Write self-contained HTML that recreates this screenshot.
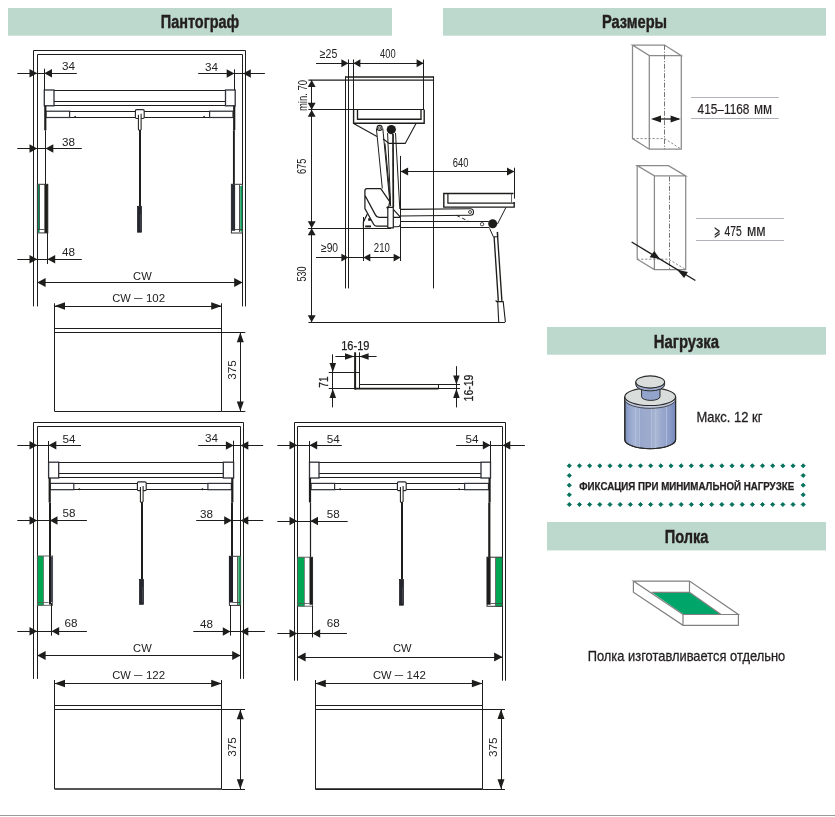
<!DOCTYPE html>
<html lang="ru"><head><meta charset="utf-8"><title>Пантограф</title>
<style>
html,body{margin:0;padding:0;background:#fff}
body{width:835px;height:817px;overflow:hidden}
svg{display:block;will-change:transform;font-family:"Liberation Sans",Arial,Helvetica,sans-serif}
</style></head><body>
<svg width="835" height="817" viewBox="0 0 835 817">
<rect width="835" height="817" fill="#fff"/>
<rect x="8" y="8" width="384" height="27.7" fill="#bdd9ce"/>
<rect x="443" y="8" width="383" height="27.7" fill="#bdd9ce"/>
<rect x="547" y="327" width="279" height="27.7" fill="#bdd9ce"/>
<rect x="547" y="522" width="279" height="28.4" fill="#bdd9ce"/>
<text x="160.8" y="27.8" font-size="18.7" fill="#231f20" font-weight="bold" textLength="78.4" lengthAdjust="spacingAndGlyphs" stroke="#231f20" stroke-width="0.45">Пантограф</text>
<text x="602" y="27.5" font-size="18.7" fill="#231f20" font-weight="bold" textLength="65.1" lengthAdjust="spacingAndGlyphs" stroke="#231f20" stroke-width="0.45">Размеры</text>
<text x="653.8" y="347.7" font-size="18.7" fill="#231f20" font-weight="bold" textLength="65.2" lengthAdjust="spacingAndGlyphs" stroke="#231f20" stroke-width="0.45">Нагрузка</text>
<text x="664.7" y="542.8" font-size="18.7" fill="#231f20" font-weight="bold" textLength="43.7" lengthAdjust="spacingAndGlyphs" stroke="#231f20" stroke-width="0.45">Полка</text>
<line x1="0" y1="815.5" x2="835" y2="815.5" stroke="#9a9a9a" stroke-width="1" />
<path d="M33.5,306.4 V50.5 H245.5 V306.4" stroke="#1d1d1b" stroke-width="1" fill="none" />
<path d="M37.5,306.4 V54.5 H242.5 V306.4" stroke="#1d1d1b" stroke-width="1" fill="none" />
<line x1="54" y1="90.5" x2="225.5" y2="90.5" stroke="#1d1d1b" stroke-width="1" />
<line x1="54" y1="101.5" x2="225.5" y2="101.5" stroke="#1d1d1b" stroke-width="1" />
<line x1="44.3" y1="105.5" x2="235.2" y2="105.5" stroke="#1d1d1b" stroke-width="1" />
<rect x="44.3" y="90.0" width="9.7" height="15.8" stroke="#2e303a" stroke-width="1.3" fill="#fff"/>
<rect x="225.5" y="90.0" width="9.7" height="15.8" stroke="#2e303a" stroke-width="1.3" fill="#fff"/>
<line x1="46" y1="111.5" x2="233" y2="111.5" stroke="#1d1d1b" stroke-width="1" />
<line x1="46" y1="117.5" x2="233" y2="117.5" stroke="#1d1d1b" stroke-width="1" />
<rect x="46" y="111.19999999999999" width="23.6" height="6.3" stroke="#2e303a" stroke-width="1.2" fill="#fff"/>
<rect x="209.6" y="111.19999999999999" width="23.4" height="6.3" stroke="#2e303a" stroke-width="1.2" fill="#fff"/>
<circle cx="75.1" cy="117.1" r="1" fill="#1d1d1b"/>
<circle cx="204.1" cy="117.1" r="1" fill="#1d1d1b"/>
<line x1="45.300000000000004" y1="105.8" x2="45.300000000000004" y2="130.3" stroke="#1d1d1b" stroke-width="2.2" />
<line x1="45.5" y1="130.3" x2="45.5" y2="184.3" stroke="#1d1d1b" stroke-width="1" />
<line x1="234.20000000000002" y1="105.8" x2="234.20000000000002" y2="130.3" stroke="#1d1d1b" stroke-width="2.2" />
<line x1="233.9" y1="130.3" x2="233.9" y2="184.3" stroke="#1d1d1b" stroke-width="1.9" />
<rect x="135.4" y="109.6" width="8.8" height="8.9" rx="1.2" fill="#fff" stroke="#26272d" stroke-width="1.15"/>
<path d="M138.4,114.8 V129.4 Q139.9,131.4 141.1,129.4 V113.8" stroke="#1d1d1b" stroke-width="1.05" fill="#fff" />
<line x1="140.0" y1="130.0" x2="140.0" y2="206" stroke="#1d1d1b" stroke-width="2" />
<rect x="137.5" y="206.3" width="4.0" height="25.9" stroke="#15161c" stroke-width="0.7" fill="#24252d"/>
<line x1="140.5" y1="214" x2="140.5" y2="230.5" stroke="#4a4c58" stroke-width="0.7" />
<rect x="37.4" y="184.3" width="10.4" height="48.6" stroke="#333" stroke-width="1" fill="#fff"/>
<rect x="44.4" y="184.3" width="3.4" height="48.6" fill="#1d1d1b"/>
<line x1="38.8" y1="184.8" x2="38.8" y2="232.4" stroke="#0c8c54" stroke-width="1.6" />
<line x1="39.5" y1="185" x2="39.5" y2="229.5" stroke="#333" stroke-width="0.7" />
<line x1="37.4" y1="229.5" x2="44.4" y2="229.5" stroke="#333" stroke-width="0.8" />
<rect x="231.4" y="184.3" width="10.9" height="48.7" stroke="#333" stroke-width="1" fill="#fff"/>
<rect x="231.3" y="184.3" width="3.8" height="46.5" fill="#2b2d36"/>
<line x1="241.2" y1="186" x2="241.2" y2="231.5" stroke="#0c9a56" stroke-width="1.9" />
<line x1="239.5" y1="185" x2="239.5" y2="232" stroke="#222" stroke-width="0.8" />
<line x1="234.6" y1="229.5" x2="242.3" y2="229.5" stroke="#333" stroke-width="0.8" />
<line x1="17.3" y1="73.5" x2="76.8" y2="73.5" stroke="#1d1d1b" stroke-width="1" />
<polygon points="37.2,73.3 29.5,69.05 29.5,77.55" fill="#1d1d1b"/>
<polygon points="44.3,73.3 52.0,69.05 52.0,77.55" fill="#1d1d1b"/>
<line x1="44.5" y1="68.7" x2="44.5" y2="90" stroke="#1d1d1b" stroke-width="1" />
<line x1="198.2" y1="73.5" x2="264.9" y2="73.5" stroke="#1d1d1b" stroke-width="1" />
<polygon points="234.4,73.4 226.7,69.15 226.7,77.65" fill="#1d1d1b"/>
<polygon points="243.1,73.4 250.8,69.15 250.8,77.65" fill="#1d1d1b"/>
<line x1="234.5" y1="69.3" x2="234.5" y2="90" stroke="#1d1d1b" stroke-width="1" />
<line x1="17.3" y1="148.5" x2="81.8" y2="148.5" stroke="#1d1d1b" stroke-width="1" />
<polygon points="37.2,148.5 29.5,144.25 29.5,152.75" fill="#1d1d1b"/>
<polygon points="45.6,148.5 53.3,144.25 53.3,152.75" fill="#1d1d1b"/>
<line x1="17.3" y1="259.5" x2="81.8" y2="259.5" stroke="#1d1d1b" stroke-width="1" />
<polygon points="37.2,259.3 29.5,255.05 29.5,263.55" fill="#1d1d1b"/>
<polygon points="47.5,259.3 55.2,255.05 55.2,263.55" fill="#1d1d1b"/>
<line x1="47.5" y1="233" x2="47.5" y2="264" stroke="#1d1d1b" stroke-width="1" />
<line x1="37.2" y1="282.5" x2="242.6" y2="282.5" stroke="#1d1d1b" stroke-width="1" />
<polygon points="37.2,282.4 45.6,277.9 45.6,286.9" fill="#1d1d1b"/>
<polygon points="242.6,282.4 234.2,277.9 234.2,286.9" fill="#1d1d1b"/>
<line x1="54.5" y1="306.5" x2="221.7" y2="306.5" stroke="#1d1d1b" stroke-width="1" />
<polygon points="54.5,306.1 65.0,302.35 65.0,309.85" fill="#1d1d1b"/>
<polygon points="221.7,306.1 211.2,302.35 211.2,309.85" fill="#1d1d1b"/>
<line x1="54.5" y1="303.3" x2="54.5" y2="411.3" stroke="#1d1d1b" stroke-width="1" />
<line x1="221.5" y1="303.3" x2="221.5" y2="411.3" stroke="#1d1d1b" stroke-width="1" />
<line x1="54.5" y1="328.5" x2="221.7" y2="328.5" stroke="#1d1d1b" stroke-width="1" />
<line x1="54.5" y1="332.5" x2="245.3" y2="332.5" stroke="#1d1d1b" stroke-width="1" />
<line x1="54.5" y1="411.5" x2="221.7" y2="411.5" stroke="#1d1d1b" stroke-width="1" />
<line x1="221.7" y1="411.5" x2="245.3" y2="411.5" stroke="#1d1d1b" stroke-width="1" />
<line x1="240.5" y1="332.4" x2="240.5" y2="411.3" stroke="#1d1d1b" stroke-width="1" />
<polygon points="240.3,332.4 236.8,342.2 243.8,342.2" fill="#1d1d1b"/>
<polygon points="240.3,411.3 236.8,401.5 243.8,401.5" fill="#1d1d1b"/>
<text x="62" y="70.4" font-size="11.6" fill="#222" textLength="13.0" lengthAdjust="spacingAndGlyphs">34</text>
<text x="205" y="70.7" font-size="11.6" fill="#222" textLength="13.0" lengthAdjust="spacingAndGlyphs">34</text>
<text x="62" y="145.6" font-size="11.6" fill="#222" textLength="13.0" lengthAdjust="spacingAndGlyphs">38</text>
<text x="62" y="255.6" font-size="11.6" fill="#222" textLength="13.0" lengthAdjust="spacingAndGlyphs">48</text>
<text x="142.4" y="279.5" font-size="11.6" fill="#222" text-anchor="middle" textLength="18.6" lengthAdjust="spacingAndGlyphs">CW</text>
<text x="112.3" y="302" font-size="11.6" fill="#222" textLength="18.6" lengthAdjust="spacingAndGlyphs">CW</text>
<text x="134.1" y="300.8" font-size="11.6" fill="#222" textLength="8.4" lengthAdjust="spacingAndGlyphs">–</text>
<text x="145.9" y="302" font-size="11.6" fill="#222" textLength="19.2" lengthAdjust="spacingAndGlyphs">102</text>
<text x="236" y="370" font-size="11.6" fill="#222" text-anchor="middle" textLength="19.5" lengthAdjust="spacingAndGlyphs" transform="rotate(-90 236 370)">375</text>
<path d="M33.5,678.9 V422.5 H243.5 V678.9" stroke="#1d1d1b" stroke-width="1" fill="none" />
<path d="M37.5,678.9 V426.5 H240.5 V678.9" stroke="#1d1d1b" stroke-width="1" fill="none" />
<line x1="58.7" y1="462.5" x2="223.3" y2="462.5" stroke="#1d1d1b" stroke-width="1" />
<line x1="58.7" y1="473.5" x2="223.3" y2="473.5" stroke="#1d1d1b" stroke-width="1" />
<line x1="48.6" y1="477.5" x2="233.6" y2="477.5" stroke="#1d1d1b" stroke-width="1" />
<rect x="48.6" y="462.2" width="10.1" height="15.8" stroke="#2e303a" stroke-width="1.3" fill="#fff"/>
<rect x="223.3" y="462.2" width="10.3" height="15.8" stroke="#2e303a" stroke-width="1.3" fill="#fff"/>
<line x1="50.3" y1="483.5" x2="231.4" y2="483.5" stroke="#1d1d1b" stroke-width="1" />
<line x1="50.3" y1="489.5" x2="231.4" y2="489.5" stroke="#1d1d1b" stroke-width="1" />
<rect x="50.3" y="483.4" width="23.5" height="6.3" stroke="#2e303a" stroke-width="1.2" fill="#fff"/>
<rect x="207.9" y="483.4" width="23.5" height="6.3" stroke="#2e303a" stroke-width="1.2" fill="#fff"/>
<circle cx="79.3" cy="489.29999999999995" r="1" fill="#1d1d1b"/>
<circle cx="202.4" cy="489.29999999999995" r="1" fill="#1d1d1b"/>
<line x1="49.7" y1="478.0" x2="49.7" y2="502.5" stroke="#1d1d1b" stroke-width="2.2" />
<line x1="50" y1="502.5" x2="50" y2="556" stroke="#1d1d1b" stroke-width="2" />
<line x1="232.3" y1="478.0" x2="232.3" y2="502.5" stroke="#1d1d1b" stroke-width="2.2" />
<line x1="232" y1="502.5" x2="232" y2="556" stroke="#1d1d1b" stroke-width="2" />
<rect x="137.4" y="481.8" width="8.8" height="8.9" rx="1.2" fill="#fff" stroke="#26272d" stroke-width="1.15"/>
<path d="M140.4,487.0 V501.6 Q141.9,503.6 143.1,501.6 V486.0" stroke="#1d1d1b" stroke-width="1.05" fill="#fff" />
<line x1="142.0" y1="502.2" x2="142.0" y2="579" stroke="#1d1d1b" stroke-width="2" />
<rect x="139.5" y="579.3" width="4.0" height="25.0" stroke="#15161c" stroke-width="0.7" fill="#24252d"/>
<line x1="142.5" y1="587" x2="142.5" y2="602.6" stroke="#4a4c58" stroke-width="0.7" />
<rect x="37.2" y="556" width="6.7" height="49.5" fill="#00a651"/>
<rect x="37.4" y="556" width="15.2" height="49.3" stroke="#555" stroke-width="0.9" fill="none"/>
<line x1="43.5" y1="556" x2="43.5" y2="605.3" stroke="#777" stroke-width="0.8" />
<rect x="50.5" y="556.5" width="2.3" height="45.8" fill="#454853"/>
<line x1="50" y1="556" x2="50" y2="604.5" stroke="#1d1d1b" stroke-width="2" />
<line x1="37.4" y1="602.5" x2="48.6" y2="602.5" stroke="#555" stroke-width="0.8" />
<rect x="229.4" y="556.3" width="11.2" height="49.1" stroke="#333" stroke-width="1" fill="#fff"/>
<rect x="229.1" y="556.3" width="3.9" height="46.2" fill="#1e1f26"/>
<line x1="239.4" y1="556.5" x2="239.4" y2="605" stroke="#1b9a5b" stroke-width="2.2" />
<line x1="237.5" y1="557" x2="237.5" y2="605" stroke="#333" stroke-width="0.8" />
<line x1="232.7" y1="602.5" x2="240.6" y2="602.5" stroke="#333" stroke-width="0.8" />
<line x1="17.3" y1="445.5" x2="81" y2="445.5" stroke="#1d1d1b" stroke-width="1" />
<polygon points="37.2,445.3 29.5,441.05 29.5,449.55" fill="#1d1d1b"/>
<polygon points="48.6,445.3 56.3,441.05 56.3,449.55" fill="#1d1d1b"/>
<line x1="48.5" y1="441" x2="48.5" y2="462.5" stroke="#1d1d1b" stroke-width="1" />
<line x1="198.2" y1="445.5" x2="263.2" y2="445.5" stroke="#1d1d1b" stroke-width="1" />
<polygon points="233.6,445.4 225.9,441.15 225.9,449.65" fill="#1d1d1b"/>
<polygon points="240.6,445.4 248.3,441.15 248.3,449.65" fill="#1d1d1b"/>
<line x1="233.5" y1="440.7" x2="233.5" y2="462.5" stroke="#1d1d1b" stroke-width="1" />
<line x1="17.3" y1="520.5" x2="86.9" y2="520.5" stroke="#1d1d1b" stroke-width="1" />
<polygon points="37.2,520.4 29.5,516.15 29.5,524.65" fill="#1d1d1b"/>
<polygon points="49.8,520.4 57.5,516.15 57.5,524.65" fill="#1d1d1b"/>
<line x1="196.2" y1="520.5" x2="263.2" y2="520.5" stroke="#1d1d1b" stroke-width="1" />
<polygon points="231.9,520.5 224.2,516.25 224.2,524.75" fill="#1d1d1b"/>
<polygon points="240.6,520.5 248.3,516.25 248.3,524.75" fill="#1d1d1b"/>
<line x1="17.3" y1="631.5" x2="86.9" y2="631.5" stroke="#1d1d1b" stroke-width="1" />
<polygon points="37.2,631.2 29.5,626.95 29.5,635.45" fill="#1d1d1b"/>
<polygon points="51.5,631.2 59.2,626.95 59.2,635.45" fill="#1d1d1b"/>
<line x1="51.5" y1="603" x2="51.5" y2="635.7" stroke="#1d1d1b" stroke-width="1" />
<line x1="193.3" y1="631.5" x2="264.9" y2="631.5" stroke="#1d1d1b" stroke-width="1" />
<polygon points="230.5,631.4 222.8,627.15 222.8,635.65" fill="#1d1d1b"/>
<polygon points="240.6,631.4 248.3,627.15 248.3,635.65" fill="#1d1d1b"/>
<line x1="230.5" y1="605" x2="230.5" y2="635.6" stroke="#1d1d1b" stroke-width="1" />
<line x1="37.2" y1="655.5" x2="240.6" y2="655.5" stroke="#1d1d1b" stroke-width="1" />
<polygon points="37.2,655.4 45.6,650.9 45.6,659.9" fill="#1d1d1b"/>
<polygon points="240.6,655.4 232.2,650.9 232.2,659.9" fill="#1d1d1b"/>
<line x1="54.5" y1="683.5" x2="221.7" y2="683.5" stroke="#1d1d1b" stroke-width="1" />
<polygon points="54.5,683.6 65.0,679.85 65.0,687.35" fill="#1d1d1b"/>
<polygon points="221.7,683.6 211.2,679.85 211.2,687.35" fill="#1d1d1b"/>
<line x1="54.5" y1="680" x2="54.5" y2="789" stroke="#1d1d1b" stroke-width="1" />
<line x1="221.5" y1="680" x2="221.5" y2="789" stroke="#1d1d1b" stroke-width="1" />
<line x1="54.5" y1="705.5" x2="221.7" y2="705.5" stroke="#1d1d1b" stroke-width="1" />
<line x1="54.5" y1="709.5" x2="245" y2="709.5" stroke="#1d1d1b" stroke-width="1" />
<line x1="54.5" y1="789" x2="221.7" y2="789" stroke="#1d1d1b" stroke-width="1.6" />
<line x1="221.7" y1="789.5" x2="245" y2="789.5" stroke="#1d1d1b" stroke-width="1" />
<line x1="240.5" y1="709.4" x2="240.5" y2="789" stroke="#1d1d1b" stroke-width="1" />
<polygon points="240.3,709.4 236.8,719.2 243.8,719.2" fill="#1d1d1b"/>
<polygon points="240.3,789 236.8,779.2 243.8,779.2" fill="#1d1d1b"/>
<text x="62.4" y="442.8" font-size="11.6" fill="#222" textLength="13.0" lengthAdjust="spacingAndGlyphs">54</text>
<text x="205" y="442.3" font-size="11.6" fill="#222" textLength="13.0" lengthAdjust="spacingAndGlyphs">34</text>
<text x="62.4" y="517.4" font-size="11.6" fill="#222" textLength="13.0" lengthAdjust="spacingAndGlyphs">58</text>
<text x="200" y="517.5" font-size="11.6" fill="#222" textLength="13.0" lengthAdjust="spacingAndGlyphs">38</text>
<text x="64.5" y="627.3" font-size="11.6" fill="#222" textLength="13.0" lengthAdjust="spacingAndGlyphs">68</text>
<text x="200" y="627.5" font-size="11.6" fill="#222" textLength="13.0" lengthAdjust="spacingAndGlyphs">48</text>
<text x="142.4" y="651.9" font-size="11.6" fill="#222" text-anchor="middle" textLength="18.6" lengthAdjust="spacingAndGlyphs">CW</text>
<text x="112.3" y="679" font-size="11.6" fill="#222" textLength="18.6" lengthAdjust="spacingAndGlyphs">CW</text>
<text x="134.1" y="677.8" font-size="11.6" fill="#222" textLength="8.4" lengthAdjust="spacingAndGlyphs">–</text>
<text x="145.9" y="679" font-size="11.6" fill="#222" textLength="19.2" lengthAdjust="spacingAndGlyphs">122</text>
<text x="236" y="747" font-size="11.6" fill="#222" text-anchor="middle" textLength="19.5" lengthAdjust="spacingAndGlyphs" transform="rotate(-90 236 747)">375</text>
<path d="M294.5,680.7 V422.5 H505.5 V680.7" stroke="#1d1d1b" stroke-width="1" fill="none" />
<path d="M297.5,680.7 V426.5 H502.5 V680.7" stroke="#1d1d1b" stroke-width="1" fill="none" />
<line x1="319" y1="462.5" x2="481" y2="462.5" stroke="#1d1d1b" stroke-width="1" />
<line x1="319" y1="473.5" x2="481" y2="473.5" stroke="#1d1d1b" stroke-width="1" />
<line x1="309.5" y1="477.5" x2="490.5" y2="477.5" stroke="#1d1d1b" stroke-width="1" />
<rect x="309.5" y="462.2" width="9.5" height="15.8" stroke="#2e303a" stroke-width="1.3" fill="#fff"/>
<rect x="481" y="462.2" width="9.5" height="15.8" stroke="#2e303a" stroke-width="1.3" fill="#fff"/>
<line x1="311.1" y1="483.5" x2="488.5" y2="483.5" stroke="#1d1d1b" stroke-width="1" />
<line x1="311.1" y1="489.5" x2="488.5" y2="489.5" stroke="#1d1d1b" stroke-width="1" />
<rect x="311.1" y="483.4" width="23.5" height="6.3" stroke="#2e303a" stroke-width="1.2" fill="#fff"/>
<rect x="464.6" y="483.4" width="23.9" height="6.3" stroke="#2e303a" stroke-width="1.2" fill="#fff"/>
<circle cx="340.1" cy="489.29999999999995" r="1" fill="#1d1d1b"/>
<circle cx="459.1" cy="489.29999999999995" r="1" fill="#1d1d1b"/>
<line x1="310.0" y1="478.0" x2="310.0" y2="502.5" stroke="#1d1d1b" stroke-width="2.2" />
<line x1="310.5" y1="502.5" x2="310.5" y2="557.2" stroke="#1d1d1b" stroke-width="1.2" />
<line x1="489.6" y1="478.0" x2="489.6" y2="502.5" stroke="#1d1d1b" stroke-width="2.2" />
<line x1="489.3" y1="502.5" x2="489.3" y2="557.2" stroke="#1d1d1b" stroke-width="2.2" />
<rect x="397.4" y="481.8" width="8.8" height="8.9" rx="1.2" fill="#fff" stroke="#26272d" stroke-width="1.15"/>
<path d="M400.4,487.0 V501.6 Q401.9,503.6 403.1,501.6 V486.0" stroke="#1d1d1b" stroke-width="1.05" fill="#fff" />
<line x1="402.0" y1="502.2" x2="402.0" y2="579.3" stroke="#1d1d1b" stroke-width="2" />
<rect x="399.5" y="579.5999999999999" width="4.0" height="25.6" stroke="#15161c" stroke-width="0.7" fill="#24252d"/>
<line x1="402.5" y1="587.3" x2="402.5" y2="603.5" stroke="#4a4c58" stroke-width="0.7" />
<rect x="297.4" y="557.2" width="7" height="49.2" fill="#00a651"/>
<rect x="297.6" y="557.2" width="15.0" height="49.0" stroke="#555" stroke-width="0.9" fill="none"/>
<line x1="304.5" y1="557.2" x2="304.5" y2="606.2" stroke="#777" stroke-width="0.8" />
<rect x="309.5" y="557.2" width="3.3" height="47.5" fill="#1d1d1b"/>
<line x1="297.6" y1="603.5" x2="309.5" y2="603.5" stroke="#555" stroke-width="0.8" />
<rect x="495.6" y="557.2" width="7" height="49.3" fill="#00a651"/>
<rect x="487" y="557.2" width="15.4" height="49.1" stroke="#333" stroke-width="1" fill="none"/>
<rect x="486.9" y="557.2" width="3.7" height="47.5" fill="#1d1d1b"/>
<line x1="495.5" y1="557.2" x2="495.5" y2="606.3" stroke="#555" stroke-width="0.8" />
<line x1="490.5" y1="603.5" x2="502.4" y2="603.5" stroke="#444" stroke-width="0.8" />
<line x1="277.3" y1="445.5" x2="341.8" y2="445.5" stroke="#1d1d1b" stroke-width="1" />
<polygon points="297.2,445.3 289.5,441.05 289.5,449.55" fill="#1d1d1b"/>
<polygon points="309.5,445.3 317.2,441.05 317.2,449.55" fill="#1d1d1b"/>
<line x1="309.5" y1="441" x2="309.5" y2="462.5" stroke="#1d1d1b" stroke-width="1" />
<line x1="456.2" y1="445.5" x2="524.9" y2="445.5" stroke="#1d1d1b" stroke-width="1" />
<polygon points="490.5,445.3 482.8,441.05 482.8,449.55" fill="#1d1d1b"/>
<polygon points="502.6,445.3 510.3,441.05 510.3,449.55" fill="#1d1d1b"/>
<line x1="490.5" y1="441" x2="490.5" y2="462.5" stroke="#1d1d1b" stroke-width="1" />
<line x1="277.3" y1="521.5" x2="347.7" y2="521.5" stroke="#1d1d1b" stroke-width="1" />
<polygon points="297.2,521 289.5,516.75 289.5,525.25" fill="#1d1d1b"/>
<polygon points="310.3,521 318.0,516.75 318.0,525.25" fill="#1d1d1b"/>
<line x1="277.3" y1="633.5" x2="346.9" y2="633.5" stroke="#1d1d1b" stroke-width="1" />
<polygon points="297.2,633.5 289.5,629.25 289.5,637.75" fill="#1d1d1b"/>
<polygon points="312.5,633.5 320.2,629.25 320.2,637.75" fill="#1d1d1b"/>
<line x1="312.5" y1="606" x2="312.5" y2="637.4" stroke="#1d1d1b" stroke-width="1" />
<line x1="297.2" y1="657.5" x2="502.5" y2="657.5" stroke="#1d1d1b" stroke-width="1" />
<polygon points="297.2,657.1 305.6,652.6 305.6,661.6" fill="#1d1d1b"/>
<polygon points="502.5,657.1 494.1,652.6 494.1,661.6" fill="#1d1d1b"/>
<line x1="315.3" y1="683.5" x2="482.4" y2="683.5" stroke="#1d1d1b" stroke-width="1" />
<polygon points="315.3,683.5 325.8,679.75 325.8,687.25" fill="#1d1d1b"/>
<polygon points="482.4,683.5 471.9,679.75 471.9,687.25" fill="#1d1d1b"/>
<line x1="315.5" y1="680" x2="315.5" y2="789.1" stroke="#1d1d1b" stroke-width="1" />
<line x1="482.5" y1="680" x2="482.5" y2="789.1" stroke="#1d1d1b" stroke-width="1" />
<line x1="315.3" y1="705.5" x2="482.4" y2="705.5" stroke="#1d1d1b" stroke-width="1" />
<line x1="315.3" y1="709.5" x2="505" y2="709.5" stroke="#1d1d1b" stroke-width="1" />
<line x1="315.3" y1="789.1" x2="482.4" y2="789.1" stroke="#1d1d1b" stroke-width="1.6" />
<line x1="482.4" y1="789.5" x2="505" y2="789.5" stroke="#1d1d1b" stroke-width="1" />
<line x1="501.5" y1="709.3" x2="501.5" y2="789.1" stroke="#1d1d1b" stroke-width="1" />
<polygon points="501,709.3 497.5,719.1 504.5,719.1" fill="#1d1d1b"/>
<polygon points="501,789.1 497.5,779.3 504.5,779.3" fill="#1d1d1b"/>
<text x="326.7" y="442.8" font-size="11.6" fill="#222" textLength="13.0" lengthAdjust="spacingAndGlyphs">54</text>
<text x="465.4" y="442.8" font-size="11.6" fill="#222" textLength="13.0" lengthAdjust="spacingAndGlyphs">54</text>
<text x="326.7" y="517.6" font-size="11.6" fill="#222" textLength="13.0" lengthAdjust="spacingAndGlyphs">58</text>
<text x="326.7" y="627.3" font-size="11.6" fill="#222" textLength="13.0" lengthAdjust="spacingAndGlyphs">68</text>
<text x="402.3" y="651.9" font-size="11.6" fill="#222" text-anchor="middle" textLength="18.6" lengthAdjust="spacingAndGlyphs">CW</text>
<text x="373.0" y="679" font-size="11.6" fill="#222" textLength="18.6" lengthAdjust="spacingAndGlyphs">CW</text>
<text x="394.8" y="677.8" font-size="11.6" fill="#222" textLength="8.4" lengthAdjust="spacingAndGlyphs">–</text>
<text x="406.6" y="679" font-size="11.6" fill="#222" textLength="19.2" lengthAdjust="spacingAndGlyphs">142</text>
<text x="496.8" y="747.3" font-size="11.6" fill="#222" text-anchor="middle" textLength="19.5" lengthAdjust="spacingAndGlyphs" transform="rotate(-90 496.8 747.3)">375</text>
<line x1="345.5" y1="76.7" x2="345.5" y2="288.4" stroke="#1d1d1b" stroke-width="1" />
<line x1="348.5" y1="59.5" x2="348.5" y2="288.4" stroke="#1d1d1b" stroke-width="1" />
<line x1="433.5" y1="76.7" x2="433.5" y2="288.4" stroke="#1d1d1b" stroke-width="1" />
<line x1="345" y1="77" x2="434.1" y2="77" stroke="#1d1d1b" stroke-width="1.4" />
<line x1="308.4" y1="80.1" x2="434.1" y2="80.1" stroke="#1d1d1b" stroke-width="1.4" />
<line x1="308.4" y1="109.5" x2="424" y2="109.5" stroke="#1d1d1b" stroke-width="1" />
<line x1="308.1" y1="228.5" x2="391" y2="228.5" stroke="#1d1d1b" stroke-width="1" />
<line x1="308.4" y1="322.5" x2="505.1" y2="322.5" stroke="#1d1d1b" stroke-width="1" />
<line x1="311.5" y1="79.9" x2="311.5" y2="322.3" stroke="#1d1d1b" stroke-width="1" />
<polygon points="311.7,79.9 307.75,86.9 315.65,86.9" fill="#1d1d1b"/>
<polygon points="311.7,109.8 307.75,102.8 315.65,102.8" fill="#1d1d1b"/>
<polygon points="311.7,109.8 307.75,116.8 315.65,116.8" fill="#1d1d1b"/>
<polygon points="311.7,228.3 307.75,221.3 315.65,221.3" fill="#1d1d1b"/>
<polygon points="311.7,228.3 307.75,235.3 315.65,235.3" fill="#1d1d1b"/>
<polygon points="311.7,322.3 307.75,315.3 315.65,315.3" fill="#1d1d1b"/>
<line x1="316" y1="63.5" x2="423.6" y2="63.5" stroke="#1d1d1b" stroke-width="1" />
<polygon points="348.4,63.2 341.4,59.25 341.4,67.15" fill="#1d1d1b"/>
<polygon points="353.4,63.2 360.4,59.25 360.4,67.15" fill="#1d1d1b"/>
<polygon points="423.6,63.2 416.6,59.25 416.6,67.15" fill="#1d1d1b"/>
<line x1="353.5" y1="59.5" x2="353.5" y2="123.5" stroke="#1d1d1b" stroke-width="1" />
<line x1="423.5" y1="59.5" x2="423.5" y2="109.8" stroke="#1d1d1b" stroke-width="1" />
<path d="M357.5,109 V119.2 H421 V109.4" stroke="#1d1d1b" stroke-width="1.35" fill="none" />
<path d="M353.6,109.8 V123.2 H424.2 V109.4" stroke="#1d1d1b" stroke-width="1.4" fill="none" />
<path d="M353.6,123.4 L377,136.6 M383,138.7 L389,143.4 H405.2 L416,123.4" stroke="#1d1d1b" stroke-width="1.1" fill="none" />
<circle cx="379.6" cy="127.9" r="2.5" fill="#fff" stroke="#1d1d1b" stroke-width="1.1"/>
<circle cx="379.6" cy="127.9" r="1.1" fill="none" stroke="#1d1d1b" stroke-width="0.8"/>
<path d="M376.4,128.5 L382.3,188.4 M382.8,128.5 L390,204 M385,143.4 L390.3,200 M387.6,133 L390.6,206 M395.5,133 L399.8,209" stroke="#1d1d1b" stroke-width="1" fill="none" />
<line x1="393" y1="134" x2="393.3" y2="207" stroke="#1d1d1b" stroke-width="1.7" />
<circle cx="391.3" cy="129.6" r="4.6" fill="#1d1d1b"/>
<line x1="400.5" y1="155.9" x2="400.5" y2="261" stroke="#1d1d1b" stroke-width="1" />
<line x1="400.6" y1="171.5" x2="514.5" y2="171.5" stroke="#1d1d1b" stroke-width="1" />
<polygon points="400.6,171.6 408.1,167.6 408.1,175.6" fill="#1d1d1b"/>
<polygon points="514.5,171.6 507.0,167.6 507.0,175.6" fill="#1d1d1b"/>
<line x1="514.5" y1="167.7" x2="514.5" y2="198.6" stroke="#1d1d1b" stroke-width="1" />
<path d="M366.9,188.6 H380.8 L389.7,201.7 L388.6,207.5 M366.9,188.6 Q364.9,188.7 364.9,191 V208.5 L373.6,224.3 Q374.7,226.2 377,226.2 H387.8 M364.9,195.3 L375.4,214.9 Q376.6,217.3 379,217.4 H387.8" stroke="#1d1d1b" stroke-width="1.25" fill="none" />
<path d="M387.8,207.3 V227.9 H393.3 V207.3 Z" stroke="#1d1d1b" stroke-width="1.2" fill="#fff" />
<path d="M393.3,209.4 L400.4,217.2 M393.3,217.4 H400.4 M400.4,224.3 Q400.3,226.7 397.6,226.7 H393.3" stroke="#1d1d1b" stroke-width="1.15" fill="none" />
<path d="M367.3,214 L363.4,222 V227.8" stroke="#1d1d1b" stroke-width="1.25" fill="none" stroke-linejoin="round"/>
<rect x="368.2" y="218.2" width="2.6" height="2.6" fill="#1d1d1b"/>
<line x1="365.2" y1="226.4" x2="371" y2="226.4" stroke="#1d1d1b" stroke-width="1.9" />
<circle cx="387.4" cy="207.6" r="1.1" fill="#1d1d1b"/>
<line x1="316" y1="257.5" x2="400.6" y2="257.5" stroke="#1d1d1b" stroke-width="1" />
<polygon points="348.4,257.6 341.4,253.65 341.4,261.55" fill="#1d1d1b"/>
<polygon points="363.3,257.6 370.3,253.65 370.3,261.55" fill="#1d1d1b"/>
<polygon points="400.6,257.6 393.6,253.65 393.6,261.55" fill="#1d1d1b"/>
<line x1="363.5" y1="217" x2="363.5" y2="261" stroke="#1d1d1b" stroke-width="1" />
<path d="M400.6,209.4 L470.2,208.7 A3.3,3.3 0 0 1 470.2,215.3 L400.6,216" stroke="#1d1d1b" stroke-width="1.1" fill="none" />
<circle cx="470" cy="212" r="1.5" fill="none" stroke="#1d1d1b" stroke-width="0.8"/>
<line x1="400.6" y1="221.5" x2="488.9" y2="221.5" stroke="#1d1d1b" stroke-width="1" />
<line x1="400.6" y1="227.5" x2="489.5" y2="227.5" stroke="#1d1d1b" stroke-width="1" />
<line x1="456.6" y1="215.4" x2="468.4" y2="221.2" stroke="#1d1d1b" stroke-width="1" stroke-dasharray="3.6 2.6"/>
<circle cx="482.1" cy="224.2" r="1.7" fill="#fff" stroke="#1d1d1b" stroke-width="0.8"/>
<path d="M447.9,193.5 V203.1 H514" stroke="#1d1d1b" stroke-width="1.2" fill="none" />
<path d="M513.5,193.5 H443.8 V207.1 H514.2 V202" stroke="#1d1d1b" stroke-width="1.4" fill="none" />
<line x1="511.5" y1="193.5" x2="511.5" y2="202.6" stroke="#444" stroke-width="0.8" />
<line x1="505.9" y1="207.5" x2="497.4" y2="224.2" stroke="#1d1d1b" stroke-width="1" />
<path d="M489.6,228.4 L493.4,236.8 H497.7 V231.9" stroke="#1d1d1b" stroke-width="1" fill="none" />
<path d="M494.1,236.8 L498.3,300.9 M497.3,232 L501.9,300.9" stroke="#1d1d1b" stroke-width="1.35" fill="none" />
<path d="M495.8,300.3 L496.4,301.6 H503.2 L505.4,322 M497.7,301.6 L498.7,322" stroke="#1d1d1b" stroke-width="1.1" fill="none" />
<circle cx="492.7" cy="223.7" r="4.5" fill="#1d1d1b"/>
<text x="319.8" y="57.8" font-size="12.6" fill="#222" textLength="17.5" lengthAdjust="spacingAndGlyphs">≥25</text>
<text x="380" y="57.8" font-size="12.6" fill="#222" textLength="15.6" lengthAdjust="spacingAndGlyphs">400</text>
<text x="452.8" y="166.6" font-size="12.6" fill="#222" textLength="15.6" lengthAdjust="spacingAndGlyphs">640</text>
<text x="321" y="252.3" font-size="12.6" fill="#222" textLength="17.1" lengthAdjust="spacingAndGlyphs">≥90</text>
<text x="373.8" y="252.3" font-size="12.6" fill="#222" textLength="16" lengthAdjust="spacingAndGlyphs">210</text>
<text x="306.6" y="111" font-size="12.6" fill="#222" textLength="31" lengthAdjust="spacingAndGlyphs" transform="rotate(-90 306.6 111)">min. 70</text>
<text x="306.4" y="174" font-size="12.6" fill="#222" textLength="15.3" lengthAdjust="spacingAndGlyphs" transform="rotate(-90 306.4 174)">675</text>
<text x="306.4" y="281.6" font-size="12.6" fill="#222" textLength="15.1" lengthAdjust="spacingAndGlyphs" transform="rotate(-90 306.4 281.6)">530</text>
<line x1="355.1" y1="352.3" x2="355.1" y2="389.6" stroke="#1d1d1b" stroke-width="2" />
<line x1="359.5" y1="352.3" x2="359.5" y2="388.7" stroke="#1d1d1b" stroke-width="1" />
<line x1="359.2" y1="384.5" x2="460" y2="384.5" stroke="#1d1d1b" stroke-width="1" />
<line x1="328.7" y1="388.5" x2="460" y2="388.5" stroke="#1d1d1b" stroke-width="1" />
<line x1="355" y1="388.7" x2="438.4" y2="388.7" stroke="#1d1d1b" stroke-width="1.8" />
<line x1="438.5" y1="384.7" x2="438.5" y2="388.7" stroke="#1d1d1b" stroke-width="1" />
<line x1="328.7" y1="372.5" x2="359.2" y2="372.5" stroke="#1d1d1b" stroke-width="1" />
<line x1="335.4" y1="356.5" x2="376.6" y2="356.5" stroke="#1d1d1b" stroke-width="1" />
<polygon points="354.4,356.4 345.0,353.15 345.0,359.65" fill="#1d1d1b"/>
<polygon points="359.2,356.4 368.6,353.15 368.6,359.65" fill="#1d1d1b"/>
<line x1="332.5" y1="354.3" x2="332.5" y2="407.4" stroke="#1d1d1b" stroke-width="1" />
<polygon points="332.8,372.2 329.55,363.0 336.05,363.0" fill="#1d1d1b"/>
<polygon points="332.8,388.7 329.55,398.1 336.05,398.1" fill="#1d1d1b"/>
<line x1="456.5" y1="366.2" x2="456.5" y2="407.4" stroke="#1d1d1b" stroke-width="1" />
<polygon points="456.4,384.7 453.15,375.5 459.65,375.5" fill="#1d1d1b"/>
<polygon points="456.4,388.7 453.15,398.1 459.65,398.1" fill="#1d1d1b"/>
<text x="341.2" y="350" font-size="12" fill="#222" textLength="28.3" lengthAdjust="spacingAndGlyphs" stroke="#222" stroke-width="0.25">16-19</text>
<text x="328.3" y="387.8" font-size="12" fill="#222" textLength="11.5" lengthAdjust="spacingAndGlyphs" transform="rotate(-90 328.3 387.8)" stroke="#222" stroke-width="0.25">71</text>
<text x="472.9" y="401.4" font-size="12" fill="#222" textLength="26.8" lengthAdjust="spacingAndGlyphs" transform="rotate(-90 472.9 401.4)" stroke="#222" stroke-width="0.25">16-19</text>
<path d="M632.5,45 H664.5 L681.3,55.6 H649.3 Z M632.5,45 V138.6 L649.3,149.2 H681.3 V55.6 M649.3,55.6 V149.2" stroke="#8a8a8a" stroke-width="1.25" fill="none" />
<path d="M632.5,138.6 H664.5 L681.3,149.2" stroke="#8a8a8a" stroke-width="1" fill="none" stroke-dasharray="2.2 1.8"/>
<line x1="664.5" y1="45" x2="664.5" y2="149.2" stroke="#666" stroke-width="0.9" stroke-dasharray="5 1.6 1.2 1.6"/>
<path d="M637.2,165.6 H668.5 L685.6999999999999,175.9 H654.4 Z M637.2,165.6 V259.2 L654.4,269.5 H685.6999999999999 V175.9 M654.4,175.9 V269.5" stroke="#8a8a8a" stroke-width="1.25" fill="none" />
<path d="M637.2,259.2 H668.5 L685.6999999999999,269.5" stroke="#8a8a8a" stroke-width="1" fill="none" stroke-dasharray="2.2 1.8"/>
<line x1="669.5" y1="176.5" x2="669.5" y2="269.5" stroke="#666" stroke-width="0.9" stroke-dasharray="5 1.6 1.2 1.6"/>
<line x1="653" y1="119" x2="679" y2="119" stroke="#1d1d1b" stroke-width="1.3" />
<polygon points="651,119 661,115.5 661,122.5" fill="#1d1d1b"/>
<polygon points="680.6,119 670.6,115.5 670.6,122.5" fill="#1d1d1b"/>
<line x1="631.6" y1="242" x2="695.4" y2="280.5" stroke="#1d1d1b" stroke-width="1.4" />
<polygon points="659.9,259 649.6,257.3 654.3,250.9" fill="#1d1d1b"/>
<polygon points="677.1,269.7 687.9,271.9 684.1,278" fill="#1d1d1b"/>
<line x1="691" y1="97.5" x2="778.8" y2="97.5" stroke="#a6a9b0" stroke-width="0.9" />
<line x1="691" y1="118.5" x2="778.8" y2="118.5" stroke="#a6a9b0" stroke-width="0.9" />
<line x1="696" y1="218.5" x2="783.9" y2="218.5" stroke="#a6a9b0" stroke-width="0.9" />
<line x1="696" y1="240.5" x2="783.9" y2="240.5" stroke="#a6a9b0" stroke-width="0.9" />
<text x="697.6" y="113.9" font-size="14.8" fill="#231f20" textLength="51.8" lengthAdjust="spacingAndGlyphs" stroke="#231f20" stroke-width="0.2">415–1168</text>
<text x="753.9" y="113.9" font-size="17.4" fill="#231f20" textLength="18.1" lengthAdjust="spacingAndGlyphs" stroke="#231f20" stroke-width="0.15">мм</text>
<text x="714.4" y="235.9" font-size="14.8" fill="#231f20" textLength="6.6" lengthAdjust="spacingAndGlyphs" stroke="#231f20" stroke-width="0.2">⩾</text>
<text x="724.6" y="235.9" font-size="14.8" fill="#231f20" textLength="17.2" lengthAdjust="spacingAndGlyphs" stroke="#231f20" stroke-width="0.2">475</text>
<text x="746.9" y="235.9" font-size="17.4" fill="#231f20" textLength="18.7" lengthAdjust="spacingAndGlyphs" stroke="#231f20" stroke-width="0.15">мм</text>
<defs><linearGradient id="wg" x1="0" x2="1" y1="0" y2="0">
<stop offset="0" stop-color="#7d8fbd"/><stop offset="0.1" stop-color="#97a7cf"/><stop offset="0.22" stop-color="#a9b6d6"/>
<stop offset="0.3" stop-color="#98a8cd"/><stop offset="0.5" stop-color="#9dabcc"/><stop offset="0.62" stop-color="#aab6d4"/>
<stop offset="0.72" stop-color="#9aa9cd"/><stop offset="0.88" stop-color="#8c9dc8"/><stop offset="1" stop-color="#7487b8"/></linearGradient></defs>
<path d="M624.8,396.7 V439.8 A25.4,8.9 0 0 0 675.6,439.8 V396.7 Z" fill="url(#wg)" stroke="#2a2a2a" stroke-width="1.1"/>
<clipPath id="wc"><path d="M624.8,396.7 V439.8 A25.4,8.9 0 0 0 675.6,439.8 V396.7 Z"/></clipPath><g clip-path="url(#wc)">
<line x1="635.5" y1="400" x2="635.5" y2="449" stroke="#b4c0dc" stroke-width="0.8" />
<line x1="639.5" y1="400" x2="639.5" y2="449" stroke="#b4c0dc" stroke-width="0.8" />
<line x1="651.5" y1="400" x2="651.5" y2="449" stroke="#b4c0dc" stroke-width="0.8" />
<line x1="655.5" y1="400" x2="655.5" y2="449" stroke="#b4c0dc" stroke-width="0.8" />
<line x1="666.5" y1="400" x2="666.5" y2="449" stroke="#b4c0dc" stroke-width="0.8" />
</g>
<path d="M624.8,396.7 V439.8 A25.4,8.9 0 0 0 675.6,439.8 V396.7" fill="none" stroke="#2a2a2a" stroke-width="1.1"/>
<ellipse cx="650.2" cy="399.4" rx="25.4" ry="8.9" fill="#c3cbe0" stroke="#2a2a2a" stroke-width="0.8"/>
<ellipse cx="650.2" cy="396.7" rx="25.4" ry="8.8" fill="#d9dddc" stroke="#2a2a2a" stroke-width="1.1"/>
<path d="M641.6,386 V396.7 A9.2,3.7 0 0 0 660,396.7 V386 Z" fill="#93a4cc" stroke="#2a2a2a" stroke-width="1"/>
<path d="M635.8,382 V384.8 A14.4,6.1 0 0 0 664.6,384.8 V382 Z" fill="#9fadd0" stroke="#2a2a2a" stroke-width="1"/>
<ellipse cx="650.2" cy="382" rx="14.4" ry="6.1" fill="#d9dddc" stroke="#2a2a2a" stroke-width="1.1"/>
<text x="696.4" y="422.1" font-size="14.4" fill="#231f20" textLength="66" lengthAdjust="spacingAndGlyphs" stroke="#231f20" stroke-width="0.3">Макс. 12 кг</text>
<path d="M567.25,465.8 L569.3,463.75 L571.3499999999999,465.8 L569.3,467.85 Z" fill="#00705a" stroke="#00705a" stroke-width="0.9" stroke-linejoin="round"/>
<path d="M567.25,504.5 L569.3,502.45 L571.3499999999999,504.5 L569.3,506.55 Z" fill="#00705a" stroke="#00705a" stroke-width="0.9" stroke-linejoin="round"/>
<path d="M577.4200000000001,465.8 L579.47,463.75 L581.52,465.8 L579.47,467.85 Z" fill="#00705a" stroke="#00705a" stroke-width="0.9" stroke-linejoin="round"/>
<path d="M577.4200000000001,504.5 L579.47,502.45 L581.52,504.5 L579.47,506.55 Z" fill="#00705a" stroke="#00705a" stroke-width="0.9" stroke-linejoin="round"/>
<path d="M587.59,465.8 L589.64,463.75 L591.6899999999999,465.8 L589.64,467.85 Z" fill="#00705a" stroke="#00705a" stroke-width="0.9" stroke-linejoin="round"/>
<path d="M587.59,504.5 L589.64,502.45 L591.6899999999999,504.5 L589.64,506.55 Z" fill="#00705a" stroke="#00705a" stroke-width="0.9" stroke-linejoin="round"/>
<path d="M597.76,465.8 L599.81,463.75 L601.8599999999999,465.8 L599.81,467.85 Z" fill="#00705a" stroke="#00705a" stroke-width="0.9" stroke-linejoin="round"/>
<path d="M597.76,504.5 L599.81,502.45 L601.8599999999999,504.5 L599.81,506.55 Z" fill="#00705a" stroke="#00705a" stroke-width="0.9" stroke-linejoin="round"/>
<path d="M607.9300000000001,465.8 L609.98,463.75 L612.03,465.8 L609.98,467.85 Z" fill="#00705a" stroke="#00705a" stroke-width="0.9" stroke-linejoin="round"/>
<path d="M607.9300000000001,504.5 L609.98,502.45 L612.03,504.5 L609.98,506.55 Z" fill="#00705a" stroke="#00705a" stroke-width="0.9" stroke-linejoin="round"/>
<path d="M618.1,465.8 L620.15,463.75 L622.1999999999999,465.8 L620.15,467.85 Z" fill="#00705a" stroke="#00705a" stroke-width="0.9" stroke-linejoin="round"/>
<path d="M618.1,504.5 L620.15,502.45 L622.1999999999999,504.5 L620.15,506.55 Z" fill="#00705a" stroke="#00705a" stroke-width="0.9" stroke-linejoin="round"/>
<path d="M628.2700000000001,465.8 L630.32,463.75 L632.37,465.8 L630.32,467.85 Z" fill="#00705a" stroke="#00705a" stroke-width="0.9" stroke-linejoin="round"/>
<path d="M628.2700000000001,504.5 L630.32,502.45 L632.37,504.5 L630.32,506.55 Z" fill="#00705a" stroke="#00705a" stroke-width="0.9" stroke-linejoin="round"/>
<path d="M638.44,465.8 L640.49,463.75 L642.54,465.8 L640.49,467.85 Z" fill="#00705a" stroke="#00705a" stroke-width="0.9" stroke-linejoin="round"/>
<path d="M638.44,504.5 L640.49,502.45 L642.54,504.5 L640.49,506.55 Z" fill="#00705a" stroke="#00705a" stroke-width="0.9" stroke-linejoin="round"/>
<path d="M648.61,465.8 L650.66,463.75 L652.7099999999999,465.8 L650.66,467.85 Z" fill="#00705a" stroke="#00705a" stroke-width="0.9" stroke-linejoin="round"/>
<path d="M648.61,504.5 L650.66,502.45 L652.7099999999999,504.5 L650.66,506.55 Z" fill="#00705a" stroke="#00705a" stroke-width="0.9" stroke-linejoin="round"/>
<path d="M658.7800000000001,465.8 L660.83,463.75 L662.88,465.8 L660.83,467.85 Z" fill="#00705a" stroke="#00705a" stroke-width="0.9" stroke-linejoin="round"/>
<path d="M658.7800000000001,504.5 L660.83,502.45 L662.88,504.5 L660.83,506.55 Z" fill="#00705a" stroke="#00705a" stroke-width="0.9" stroke-linejoin="round"/>
<path d="M668.95,465.8 L671.0,463.75 L673.05,465.8 L671.0,467.85 Z" fill="#00705a" stroke="#00705a" stroke-width="0.9" stroke-linejoin="round"/>
<path d="M668.95,504.5 L671.0,502.45 L673.05,504.5 L671.0,506.55 Z" fill="#00705a" stroke="#00705a" stroke-width="0.9" stroke-linejoin="round"/>
<path d="M679.12,465.8 L681.17,463.75 L683.2199999999999,465.8 L681.17,467.85 Z" fill="#00705a" stroke="#00705a" stroke-width="0.9" stroke-linejoin="round"/>
<path d="M679.12,504.5 L681.17,502.45 L683.2199999999999,504.5 L681.17,506.55 Z" fill="#00705a" stroke="#00705a" stroke-width="0.9" stroke-linejoin="round"/>
<path d="M689.2900000000001,465.8 L691.34,463.75 L693.39,465.8 L691.34,467.85 Z" fill="#00705a" stroke="#00705a" stroke-width="0.9" stroke-linejoin="round"/>
<path d="M689.2900000000001,504.5 L691.34,502.45 L693.39,504.5 L691.34,506.55 Z" fill="#00705a" stroke="#00705a" stroke-width="0.9" stroke-linejoin="round"/>
<path d="M699.46,465.8 L701.51,463.75 L703.56,465.8 L701.51,467.85 Z" fill="#00705a" stroke="#00705a" stroke-width="0.9" stroke-linejoin="round"/>
<path d="M699.46,504.5 L701.51,502.45 L703.56,504.5 L701.51,506.55 Z" fill="#00705a" stroke="#00705a" stroke-width="0.9" stroke-linejoin="round"/>
<path d="M709.63,465.8 L711.68,463.75 L713.7299999999999,465.8 L711.68,467.85 Z" fill="#00705a" stroke="#00705a" stroke-width="0.9" stroke-linejoin="round"/>
<path d="M709.63,504.5 L711.68,502.45 L713.7299999999999,504.5 L711.68,506.55 Z" fill="#00705a" stroke="#00705a" stroke-width="0.9" stroke-linejoin="round"/>
<path d="M719.8000000000001,465.8 L721.85,463.75 L723.9,465.8 L721.85,467.85 Z" fill="#00705a" stroke="#00705a" stroke-width="0.9" stroke-linejoin="round"/>
<path d="M719.8000000000001,504.5 L721.85,502.45 L723.9,504.5 L721.85,506.55 Z" fill="#00705a" stroke="#00705a" stroke-width="0.9" stroke-linejoin="round"/>
<path d="M729.97,465.8 L732.02,463.75 L734.0699999999999,465.8 L732.02,467.85 Z" fill="#00705a" stroke="#00705a" stroke-width="0.9" stroke-linejoin="round"/>
<path d="M729.97,504.5 L732.02,502.45 L734.0699999999999,504.5 L732.02,506.55 Z" fill="#00705a" stroke="#00705a" stroke-width="0.9" stroke-linejoin="round"/>
<path d="M740.1400000000001,465.8 L742.19,463.75 L744.24,465.8 L742.19,467.85 Z" fill="#00705a" stroke="#00705a" stroke-width="0.9" stroke-linejoin="round"/>
<path d="M740.1400000000001,504.5 L742.19,502.45 L744.24,504.5 L742.19,506.55 Z" fill="#00705a" stroke="#00705a" stroke-width="0.9" stroke-linejoin="round"/>
<path d="M750.3100000000001,465.8 L752.36,463.75 L754.41,465.8 L752.36,467.85 Z" fill="#00705a" stroke="#00705a" stroke-width="0.9" stroke-linejoin="round"/>
<path d="M750.3100000000001,504.5 L752.36,502.45 L754.41,504.5 L752.36,506.55 Z" fill="#00705a" stroke="#00705a" stroke-width="0.9" stroke-linejoin="round"/>
<path d="M760.48,465.8 L762.53,463.75 L764.5799999999999,465.8 L762.53,467.85 Z" fill="#00705a" stroke="#00705a" stroke-width="0.9" stroke-linejoin="round"/>
<path d="M760.48,504.5 L762.53,502.45 L764.5799999999999,504.5 L762.53,506.55 Z" fill="#00705a" stroke="#00705a" stroke-width="0.9" stroke-linejoin="round"/>
<path d="M770.6500000000001,465.8 L772.7,463.75 L774.75,465.8 L772.7,467.85 Z" fill="#00705a" stroke="#00705a" stroke-width="0.9" stroke-linejoin="round"/>
<path d="M770.6500000000001,504.5 L772.7,502.45 L774.75,504.5 L772.7,506.55 Z" fill="#00705a" stroke="#00705a" stroke-width="0.9" stroke-linejoin="round"/>
<path d="M780.82,465.8 L782.87,463.75 L784.92,465.8 L782.87,467.85 Z" fill="#00705a" stroke="#00705a" stroke-width="0.9" stroke-linejoin="round"/>
<path d="M780.82,504.5 L782.87,502.45 L784.92,504.5 L782.87,506.55 Z" fill="#00705a" stroke="#00705a" stroke-width="0.9" stroke-linejoin="round"/>
<path d="M790.99,465.8 L793.04,463.75 L795.0899999999999,465.8 L793.04,467.85 Z" fill="#00705a" stroke="#00705a" stroke-width="0.9" stroke-linejoin="round"/>
<path d="M790.99,504.5 L793.04,502.45 L795.0899999999999,504.5 L793.04,506.55 Z" fill="#00705a" stroke="#00705a" stroke-width="0.9" stroke-linejoin="round"/>
<path d="M801.1600000000001,465.8 L803.21,463.75 L805.26,465.8 L803.21,467.85 Z" fill="#00705a" stroke="#00705a" stroke-width="0.9" stroke-linejoin="round"/>
<path d="M801.1600000000001,504.5 L803.21,502.45 L805.26,504.5 L803.21,506.55 Z" fill="#00705a" stroke="#00705a" stroke-width="0.9" stroke-linejoin="round"/>
<path d="M567.25,475.5 L569.3,473.45 L571.3499999999999,475.5 L569.3,477.55 Z" fill="#00705a" stroke="#00705a" stroke-width="0.9" stroke-linejoin="round"/>
<path d="M801.1500000000001,475.5 L803.2,473.45 L805.25,475.5 L803.2,477.55 Z" fill="#00705a" stroke="#00705a" stroke-width="0.9" stroke-linejoin="round"/>
<path d="M567.25,485.2 L569.3,483.15 L571.3499999999999,485.2 L569.3,487.25 Z" fill="#00705a" stroke="#00705a" stroke-width="0.9" stroke-linejoin="round"/>
<path d="M801.1500000000001,485.2 L803.2,483.15 L805.25,485.2 L803.2,487.25 Z" fill="#00705a" stroke="#00705a" stroke-width="0.9" stroke-linejoin="round"/>
<path d="M567.25,494.8 L569.3,492.75 L571.3499999999999,494.8 L569.3,496.85 Z" fill="#00705a" stroke="#00705a" stroke-width="0.9" stroke-linejoin="round"/>
<path d="M801.1500000000001,494.8 L803.2,492.75 L805.25,494.8 L803.2,496.85 Z" fill="#00705a" stroke="#00705a" stroke-width="0.9" stroke-linejoin="round"/>
<text x="579.3" y="489.7" font-size="10.2" fill="#231f20" font-weight="bold" textLength="214.9" lengthAdjust="spacingAndGlyphs" stroke="#231f20" stroke-width="0.25">ФИКСАЦИЯ ПРИ МИНИМАЛЬНОЙ НАГРУЗКЕ</text>
<polygon points="651.7,592.3 689.5,592.3 720.7,614.3 683.3,614.3" fill="#00a56a"/>
<path d="M633.4,581.1 H689.5 L738.4,614.5 H683 Z M633.4,581.1 V592.3 L683,625.3 H738.4 V614.5 M683,614.5 V625.3 M689.5,581.1 V592.3 M651.7,592.3 H689.5 L720.7,614.3" stroke="#808080" stroke-width="1.2" fill="none" />
<text x="587.7" y="660.6" font-size="14.6" fill="#231f20" textLength="197.5" lengthAdjust="spacingAndGlyphs" stroke="#231f20" stroke-width="0.3">Полка изготавливается отдельно</text>
</svg>
</body></html>
